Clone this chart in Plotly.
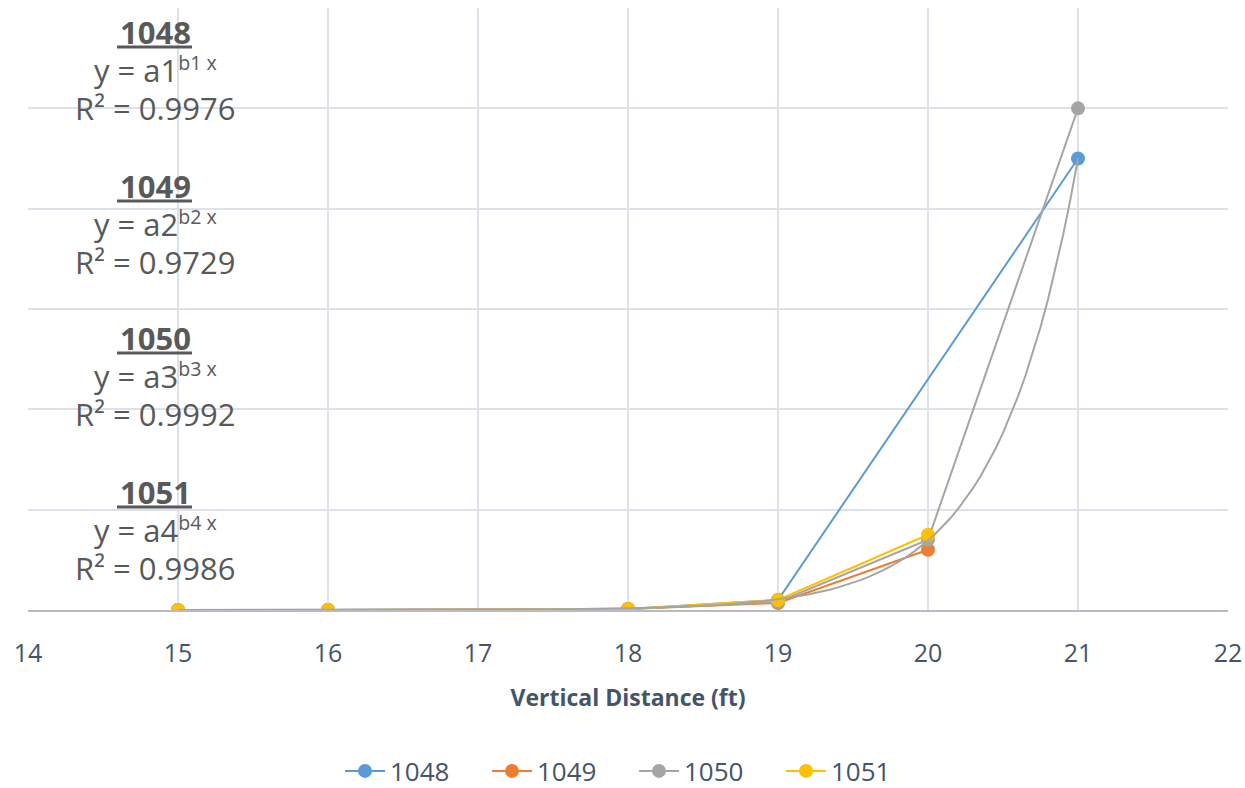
import plotly.graph_objects as go

# Vertical distance (ft) for each measurement point
distance_ft = [15, 16, 18, 19, 20, 21]

# Readings per borehole (None = no reading at that depth)
s1048 = [0, 0, 0.01, 0.10, None, 4.50]
s1049 = [0, 0, 0.01, 0.07, 0.60, None]
s1050 = [0, 0, 0.01, 0.08, 0.70, 5.00]
s1051 = [0, 0, 0.01, 0.10, 0.75, None]

series_names = ["1048", "1049", "1050", "1051"]
series_colors = ["#5B9BD5", "#ED7D31", "#A5A5A5", "#FFC000"]

# Exponential trend parameters (y = A * B**x), anchored at x = 21
trend_value_21 = 4.5
trend_base = 6.5

# Fit labels
r2_labels = ["0.9976", "0.9729", "0.9992", "0.9986"]
eq_index = ["1", "2", "3", "4"]

fig = go.Figure()

for name, vals, col in zip(series_names, [s1048, s1049, s1050, s1051], series_colors):
    fig.add_trace(go.Scatter(
        x=distance_ft, y=vals, name=name, mode="lines+markers",
        connectgaps=True,
        line=dict(color=col, width=2),
        marker=dict(color=col, size=14),
    ))

# Exponential trendline for 1050
tx = [15 + i * 0.05 for i in range(121)]
ty = [trend_value_21 * trend_base ** (v - 21) for v in tx]
fig.add_trace(go.Scatter(
    x=tx, y=ty, mode="lines", showlegend=False, hoverinfo="skip",
    line=dict(color="#A5A5A5", width=2),
))

# Plot-area geometry in pixels (used to place the fit labels)
W, H = 1245, 788
L, R, T, B = 28, 1228, 8, 610


def px_to_paper(px, py):
    return (px - L) / (R - L), (B - py) / (B - T)


text_color = "#595959"
block_tops = [32, 186, 338, 492]
for i, name in enumerate(series_names):
    y0 = block_tops[i]
    cx, _ = px_to_paper(155, 0)
    lines = [
        (f"<b>{name}</b>", y0, 31),
        (f"y = a{eq_index[i]}<span style='font-size:28px'><sup>b{eq_index[i]} x</sup></span>", y0 + 38, 31),
        (f"R² = {r2_labels[i]}", y0 + 76, 31),
    ]
    for txt, py, fs in lines:
        _, yy = px_to_paper(0, py)
        fig.add_annotation(
            x=cx, y=yy, xref="paper", yref="paper", text=txt, showarrow=False,
            xanchor="center", yanchor="middle",
            font=dict(family="Open Sans", size=fs, color=text_color),
        )
    # underline beneath the series title
    ux0, uy = px_to_paper(117, y0 + 15)
    ux1, _ = px_to_paper(192, 0)
    fig.add_shape(type="line", xref="paper", yref="paper",
                  x0=ux0, x1=ux1, y0=uy, y1=uy,
                  line=dict(color=text_color, width=3))

axis_text = "#44546A"
fig.update_layout(
    width=W, height=H,
    margin=dict(l=L, r=W - R, t=T, b=H - B, autoexpand=False),
    paper_bgcolor="white", plot_bgcolor="white",
    font=dict(family="Open Sans", color=axis_text),
    showlegend=True,
    legend=dict(
        orientation="h", x=0.505, xanchor="center",
        y=(B - 771) / (B - T), yanchor="middle",
        font=dict(size=26, color=axis_text),
        itemwidth=40, entrywidth=92, entrywidthmode="pixels",
    ),
    xaxis=dict(
        range=[14, 22], dtick=1, tick0=14,
        showgrid=True, gridcolor="#DDE2EA", gridwidth=2,
        zeroline=False,
        showline=True, linecolor="#B4BCC8", linewidth=2,
        ticks="", tickfont=dict(size=25, color=axis_text),
        ticklabelstandoff=20,
        title=dict(text="<b>Vertical Distance (ft)</b>",
                   font=dict(size=23, color=axis_text), standoff=22),
    ),
    yaxis=dict(
        range=[0, 6], dtick=1,
        showgrid=True, gridcolor="#DDE2EA", gridwidth=2,
        zeroline=False, showticklabels=False, ticks="",
    ),
)

fig.write_html("out.html")
